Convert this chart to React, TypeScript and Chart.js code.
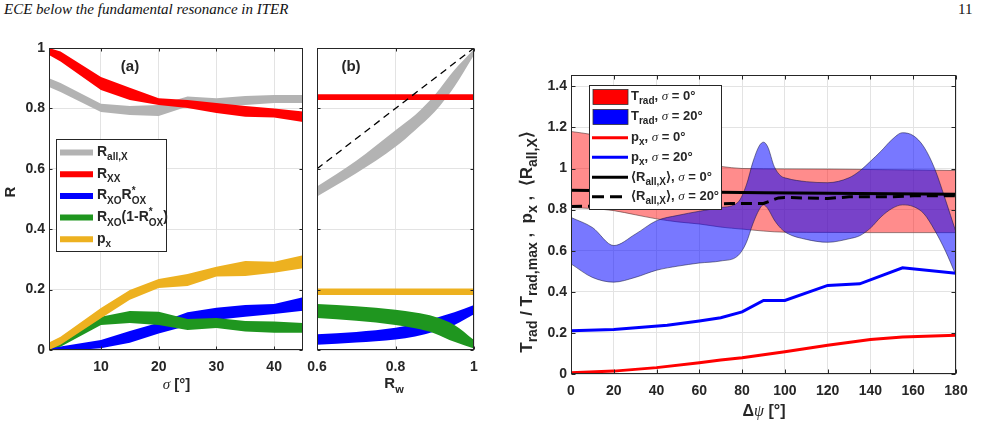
import React, { useEffect, useRef } from 'react';
import { Chart, registerables } from 'chart.js';

Chart.register(...registerables);

const W = 983;
const H = 424;
const AX = '#262626';
const GRID = '#e3e3e3';
const SANS = '"Liberation Sans", Arial, Helvetica, sans-serif';
const SERIF = '"Liberation Serif", "DejaVu Serif", serif';

// ---------- panel (a): reflection coefficients vs. beam divergence sigma [deg]
const sigma = [1, 3, 10, 15, 20, 25, 30, 35, 40, 45];
const aAllXHi = [0.9, 0.884, 0.815, 0.808, 0.811, 0.839, 0.834, 0.841, 0.844, 0.844];
const aAllXLo = [0.871, 0.854, 0.788, 0.778, 0.775, 0.806, 0.806, 0.811, 0.818, 0.818];
const aXXHi = [1.0, 0.988, 0.904, 0.868, 0.834, 0.828, 0.818, 0.808, 0.8, 0.79];
const aXXLo = [0.977, 0.955, 0.861, 0.828, 0.811, 0.801, 0.785, 0.772, 0.77, 0.755];
const aXOOXHi = [0.011, 0.012, 0.033, 0.063, 0.09, 0.125, 0.14, 0.149, 0.152, 0.175];
const aXOOXLo = [-0.005, -0.004, 0.006, 0.024, 0.055, 0.08, 0.1, 0.11, 0.119, 0.13];
const aXO1mOXHi = [0.024, 0.033, 0.11, 0.129, 0.127, 0.103, 0.106, 0.096, 0.094, 0.089];
const aXO1mOXLo = [0.005, 0.011, 0.083, 0.089, 0.083, 0.066, 0.073, 0.061, 0.057, 0.057];
const aPxHi = [0.025, 0.044, 0.139, 0.199, 0.235, 0.252, 0.276, 0.295, 0.292, 0.314];
const aPxLo = [0.0, 0.017, 0.105, 0.166, 0.205, 0.212, 0.243, 0.245, 0.256, 0.271];
const aXTicks = [10, 20, 30, 40];
const rTicks = [0, 0.2, 0.4, 0.6, 0.8, 1];

// ---------- panel (b): reflection vs. wall reflectivity R_w
const rw = [0.6, 0.7, 0.8, 0.85, 0.9, 0.95, 1];
const bAllXHi = [0.541, 0.627, 0.728, 0.778, 0.844, 0.927, 0.996];
const bAllXLo = [0.508, 0.585, 0.673, 0.728, 0.789, 0.872, 0.977];
const bXO1mOXHi = [0.152, 0.145, 0.133, 0.124, 0.11, 0.083, 0.033];
const bXO1mOXLo = [0.106, 0.097, 0.083, 0.072, 0.055, 0.027, 0.005];
const bXOOXHi = [0.052, 0.06, 0.074, 0.086, 0.105, 0.125, 0.149];
const bXOOXLo = [0.017, 0.025, 0.035, 0.045, 0.061, 0.083, 0.118];
const rwEnds = [0.6, 1];
const bXXHi = [0.847, 0.847];
const bXXLo = [0.828, 0.828];
const bPxHi = [0.204, 0.204];
const bPxLo = [0.182, 0.182];
const bDiag = [0.6, 1];
const bXTicks = [0.6, 0.8, 1];

// ---------- panel (c): normalised T_rad, p_x and <R_all,X> vs. delta psi [deg]
const psiRed = [0, 10, 20, 30, 40, 50, 60, 70, 80, 100, 120, 140, 160, 180];
const tRad0Hi = [1.18, 1.165, 1.14, 1.11, 1.08, 1.045, 1.02, 1.01, 1.0, 0.998, 0.997, 0.995, 0.993, 0.99];
const tRad0Lo = [0.81, 0.805, 0.795, 0.775, 0.755, 0.74, 0.73, 0.715, 0.705, 0.69, 0.689, 0.688, 0.688, 0.688];
const psiBlue = [0, 10, 20, 30, 40, 50, 60, 70, 78, 82, 85, 88, 90, 92, 95, 98, 101, 110, 120, 130, 135, 140, 145, 150, 155, 160, 165, 170, 175, 180];
const tRad20Hi = [0.762, 0.713, 0.625, 0.68, 0.746, 0.772, 0.792, 0.81, 0.835, 0.92, 1.03, 1.11, 1.128, 1.105, 1.01, 0.965, 0.952, 0.936, 0.931, 0.955, 0.988, 1.035, 1.085, 1.14, 1.174, 1.16, 1.105, 1.0, 0.85, 0.69];
const tRad20Lo = [0.536, 0.47, 0.447, 0.47, 0.505, 0.525, 0.54, 0.55, 0.575, 0.64, 0.73, 0.8, 0.823, 0.805, 0.75, 0.71, 0.685, 0.655, 0.641, 0.658, 0.673, 0.71, 0.765, 0.805, 0.823, 0.815, 0.78, 0.7, 0.6, 0.48];
const psiPx20 = [0, 20, 45, 60, 70, 80, 90, 100, 120, 135, 155, 180];
const px20 = [0.21, 0.216, 0.237, 0.258, 0.274, 0.302, 0.358, 0.358, 0.431, 0.439, 0.517, 0.49];
const psiPx0 = [0, 20, 40, 60, 70, 80, 100, 120, 140, 155, 180];
const px0 = [0.006, 0.014, 0.031, 0.055, 0.068, 0.079, 0.108, 0.14, 0.168, 0.18, 0.189];
const psiR0 = [0, 30, 60, 90, 120, 150, 180];
const rAll0 = [0.894, 0.89, 0.886, 0.882, 0.879, 0.877, 0.875];
const psiR20 = [0, 20, 40, 60, 75, 90, 97, 100, 120, 130, 150, 160, 180];
const rAll20 = [0.815, 0.818, 0.82, 0.825, 0.83, 0.83, 0.857, 0.859, 0.854, 0.862, 0.862, 0.867, 0.867];
const cXTicks = [0, 20, 40, 60, 80, 100, 120, 140, 160, 180];
const cYTicks = [0, 0.2, 0.4, 0.6, 0.8, 1, 1.2, 1.4];

const GRAY = '#b3b3b3';
const RED = '#ff0000';
const BLUE = '#0000ff';
const GREEN = '#1f961f';
const YELLOW = '#EDB120';

type Seg = { t: string; sub?: boolean; sup?: string; it?: boolean };

let subRatio = 0.72;

function segFont(size: number, it?: boolean, small?: boolean) {
  const s = small ? Math.round(size * subRatio) : size;
  return it ? `italic ${s}px ${SERIF}` : `bold ${s}px ${SANS}`;
}

function segWidth(ctx: CanvasRenderingContext2D, s: Seg, size: number) {
  if (s.sub || s.sup !== undefined) {
    ctx.font = segFont(size, s.it, true);
    const w1 = s.t ? ctx.measureText(s.t).width : 0;
    const w2 = s.sup ? ctx.measureText(s.sup).width : 0;
    return Math.max(w1, w2);
  }
  ctx.font = segFont(size, s.it);
  return ctx.measureText(s.t).width;
}

function drawRich(ctx: CanvasRenderingContext2D, segs: Seg[], x: number, y: number, size: number, align: 'left' | 'center', color = AX) {
  let total = 0;
  for (const s of segs) total += segWidth(ctx, s, size);
  let cx = align === 'center' ? x - total / 2 : x;
  ctx.fillStyle = color;
  ctx.textAlign = 'left';
  ctx.textBaseline = 'alphabetic';
  for (const s of segs) {
    const w = segWidth(ctx, s, size);
    if (s.sub || s.sup !== undefined) {
      ctx.font = segFont(size, s.it, true);
      if (s.t) ctx.fillText(s.t, cx, y + size * 0.32);
      if (s.sup) ctx.fillText(s.sup, cx, y - size * 0.42);
    } else {
      ctx.font = segFont(size, s.it);
      ctx.fillText(s.t, cx, y);
    }
    cx += w;
  }
}

function drawRotated(ctx: CanvasRenderingContext2D, segs: Seg[], baseX: number, centerY: number, size: number) {
  ctx.save();
  ctx.translate(baseX, centerY);
  ctx.rotate(-Math.PI / 2);
  drawRich(ctx, segs, 0, 0, size, 'center');
  ctx.restore();
}

const pts = (xs: number[], ys: number[]) => xs.map((x, i) => ({ x, y: ys[i] }));

function band(xs: number[], lo: number[], hi: number[], fill: string, order: number, edge?: string, smooth = false) {
  const common: any = {
    pointRadius: 0,
    order,
    borderColor: edge || 'rgba(0,0,0,0)',
    borderWidth: edge ? 0.7 : 0,
    cubicInterpolationMode: smooth ? 'monotone' : 'default',
    tension: 0,
  };
  return [
    { ...common, data: pts(xs, lo), fill: false },
    { ...common, data: pts(xs, hi), fill: '-1', backgroundColor: fill },
  ];
}

function line(xs: number[], ys: number[], color: string, width: number, order: number, dash?: number[]) {
  return {
    data: pts(xs, ys),
    borderColor: color,
    borderWidth: width,
    borderDash: dash || [],
    pointRadius: 0,
    fill: false,
    tension: 0,
    order,
  };
}

const fmt = (v: number) => String(Math.round(v * 10) / 10);

type PanelSpec = {
  area: { l: number; t: number; r: number; b: number };
  x: [number, number];
  y: [number, number];
  xTicks: number[];
  yTicks: number[];
  yLabels: boolean;
  tickLen: number;
  datasets: any[];
  extra: (ctx: CanvasRenderingContext2D) => void;
};

const YW = 40;
const XH = 30;

function makeChart(canvas: HTMLCanvasElement, p: PanelSpec) {
  const tickFont = { family: SANS, size: 14, weight: 'bold' as const };
  const deco = {
    id: 'deco',
    afterDraw(chart: any) {
      const ctx: CanvasRenderingContext2D = chart.ctx;
      const a = chart.chartArea;
      const sx = chart.scales.x;
      const sy = chart.scales.y;
      ctx.save();
      ctx.strokeStyle = AX;
      ctx.lineWidth = 1;
      const L = Math.round(a.left) + 0.5;
      const R = Math.round(a.right) - 0.5;
      const T = Math.round(a.top) + 0.5;
      const B = Math.round(a.bottom) - 0.5;
      ctx.strokeRect(L, T, R - L, B - T);
      ctx.beginPath();
      for (const v of p.xTicks) {
        const px = Math.round(sx.getPixelForValue(v)) + 0.5;
        ctx.moveTo(px, B);
        ctx.lineTo(px, B - p.tickLen);
        ctx.moveTo(px, T);
        ctx.lineTo(px, T + p.tickLen);
      }
      for (const v of p.yTicks) {
        const py = Math.round(sy.getPixelForValue(v)) + 0.5;
        ctx.moveTo(L, py);
        ctx.lineTo(L + p.tickLen, py);
        ctx.moveTo(R, py);
        ctx.lineTo(R - p.tickLen, py);
      }
      ctx.stroke();
      p.extra(ctx);
      ctx.restore();
    },
  };
  return new Chart(canvas, {
    type: 'line',
    data: { datasets: p.datasets },
    options: {
      responsive: false,
      animation: false,
      events: [],
      layout: {
        autoPadding: false,
        padding: { left: p.area.l - YW, top: p.area.t, right: W - p.area.r, bottom: H - p.area.b - XH },
      },
      plugins: { legend: { display: false }, tooltip: { enabled: false } },
      scales: {
        x: {
          type: 'linear',
          min: p.x[0],
          max: p.x[1],
          afterBuildTicks: (s: any) => {
            s.ticks = p.xTicks.map((value) => ({ value }));
          },
          afterFit: (s: any) => {
            s.height = XH;
          },
          grid: { color: GRID, drawTicks: false, lineWidth: 1 },
          border: { display: false },
          ticks: { color: AX, font: tickFont, padding: 9, maxRotation: 0, autoSkip: false, callback: (v: any) => fmt(Number(v)) },
        },
        y: {
          type: 'linear',
          min: p.y[0],
          max: p.y[1],
          afterBuildTicks: (s: any) => {
            s.ticks = p.yTicks.map((value) => ({ value }));
          },
          afterFit: (s: any) => {
            s.width = YW;
          },
          grid: { color: GRID, drawTicks: false, lineWidth: 1 },
          border: { display: false },
          ticks: { display: p.yLabels, color: AX, font: tickFont, padding: 4, autoSkip: false, callback: (v: any) => fmt(Number(v)) },
        },
      },
    } as any,
    plugins: [deco],
  });
}

function legendLine(ctx: CanvasRenderingContext2D, x0: number, x1: number, y: number, color: string, width: number, dash: number[] = []) {
  ctx.save();
  ctx.strokeStyle = color;
  ctx.lineWidth = width;
  ctx.setLineDash(dash);
  ctx.beginPath();
  ctx.moveTo(x0, y);
  ctx.lineTo(x1, y);
  ctx.stroke();
  ctx.restore();
}

function legendBox(ctx: CanvasRenderingContext2D, x0: number, y0: number, x1: number, y1: number) {
  ctx.save();
  ctx.fillStyle = '#ffffff';
  ctx.fillRect(x0, y0, x1 - x0, y1 - y0);
  ctx.strokeStyle = AX;
  ctx.lineWidth = 1;
  ctx.strokeRect(x0 + 0.5, y0 + 0.5, x1 - x0 - 1, y1 - y0 - 1);
  ctx.restore();
}

const panelA = (): PanelSpec => ({
  area: { l: 49, t: 48, r: 303, b: 350 },
  x: [1, 45],
  y: [0, 1],
  xTicks: aXTicks,
  yTicks: rTicks,
  yLabels: true,
  tickLen: 3,
  datasets: [
    ...band(sigma, aAllXLo, aAllXHi, GRAY, 50),
    ...band(sigma, aXXLo, aXXHi, RED, 40),
    ...band(sigma, aXOOXLo, aXOOXHi, BLUE, 30),
    ...band(sigma, aXO1mOXLo, aXO1mOXHi, GREEN, 20),
    ...band(sigma, aPxLo, aPxHi, YELLOW, 10),
  ],
  extra: (ctx) => {
    subRatio = 0.72;
    drawRich(ctx, [{ t: '(a)' }], 130, 71, 15, 'center');
    legendBox(ctx, 56, 139, 167, 252);
    const entries: { c: string; s: Seg[] }[] = [
      { c: GRAY, s: [{ t: 'R' }, { t: 'all,X', sub: true }] },
      { c: RED, s: [{ t: 'R' }, { t: 'XX', sub: true }] },
      { c: BLUE, s: [{ t: 'R' }, { t: 'XO', sub: true }, { t: 'R' }, { t: 'OX', sub: true, sup: '*' }] },
      { c: GREEN, s: [{ t: 'R' }, { t: 'XO', sub: true }, { t: '(1-R' }, { t: 'OX', sub: true, sup: '*' }, { t: ')' }] },
      { c: YELLOW, s: [{ t: 'p' }, { t: 'x', sub: true }] },
    ];
    entries.forEach((e, i) => {
      const cy = 152.5 + i * 21.7;
      legendLine(ctx, 60, 93, cy, e.c, 6);
      drawRich(ctx, e.s, 97, cy + 3.5, 14, 'left');
    });
    drawRotated(ctx, [{ t: 'R' }], 15, 192, 15);
    drawRich(ctx, [{ t: 'σ', it: true }, { t: ' [°]' }], 176.5, 389, 15, 'center');
  },
});

const panelB = (): PanelSpec => ({
  area: { l: 317, t: 48, r: 474, b: 350 },
  x: [0.6, 1],
  y: [0, 1],
  xTicks: bXTicks,
  yTicks: rTicks,
  yLabels: false,
  tickLen: 3,
  datasets: [
    ...band(rw, bAllXLo, bAllXHi, GRAY, 50, undefined, true),
    ...band(rwEnds, bXXLo, bXXHi, RED, 40),
    ...band(rw, bXOOXLo, bXOOXHi, BLUE, 30, undefined, true),
    ...band(rw, bXO1mOXLo, bXO1mOXHi, GREEN, 20, undefined, true),
    ...band(rwEnds, bPxLo, bPxHi, YELLOW, 10),
    line(bDiag, bDiag, '#000000', 1.3, 5, [7, 5]),
  ],
  extra: (ctx) => {
    subRatio = 0.72;
    drawRich(ctx, [{ t: '(b)' }], 351, 71, 15, 'center');
    drawRich(ctx, [{ t: 'R' }, { t: 'w', sub: true }], 394, 388, 15, 'center');
  },
});

const panelC = (): PanelSpec => ({
  area: { l: 571, t: 75, r: 956, b: 374 },
  x: [0, 180],
  y: [0, 1.455],
  xTicks: cXTicks,
  yTicks: cYTicks,
  yLabels: true,
  tickLen: 4,
  datasets: [
    ...band(psiRed, tRad0Lo, tRad0Hi, 'rgba(255,0,0,0.45)', 50, 'rgba(60,30,30,0.75)', true),
    ...band(psiBlue, tRad20Lo, tRad20Hi, 'rgba(0,0,255,0.53)', 40, 'rgba(20,20,60,0.75)', true),
    line(psiPx0, px0, RED, 3, 30),
    line(psiPx20, px20, BLUE, 3, 25),
    line(psiR0, rAll0, '#000000', 3, 10),
    line(psiR20, rAll20, '#000000', 3, 5, [11, 6]),
  ],
  extra: (ctx) => {
    subRatio = 0.74;
    legendBox(ctx, 589, 85, 722, 210);
    ctx.save();
    ctx.fillStyle = RED;
    ctx.fillRect(593, 89.5, 35, 15);
    ctx.fillStyle = BLUE;
    ctx.fillRect(593, 109.5, 35, 15);
    ctx.strokeStyle = '#333';
    ctx.lineWidth = 0.8;
    ctx.strokeRect(593, 89.5, 35, 15);
    ctx.strokeRect(593, 109.5, 35, 15);
    ctx.restore();
    const sig = (deg: string): Seg[] => [{ t: ', ' }, { t: 'σ', it: true }, { t: ` = ${deg}°` }];
    const rows: Seg[][] = [
      [{ t: 'T' }, { t: 'rad', sub: true }, ...sig('0')],
      [{ t: 'T' }, { t: 'rad', sub: true }, ...sig('20')],
      [{ t: 'p' }, { t: 'x', sub: true }, ...sig('0')],
      [{ t: 'p' }, { t: 'x', sub: true }, ...sig('20')],
      [{ t: '⟨R' }, { t: 'all,X', sub: true }, { t: '⟩' }, ...sig('0')],
      [{ t: '⟨R' }, { t: 'all,X', sub: true }, { t: '⟩' }, ...sig('20')],
    ];
    const ys = [96.8, 116.8, 137.7, 157.3, 177.3, 196.7];
    legendLine(ctx, 592, 628, ys[2], RED, 3);
    legendLine(ctx, 592, 628, ys[3], BLUE, 3);
    legendLine(ctx, 592, 628, ys[4], '#000000', 3);
    legendLine(ctx, 592, 628, ys[5], '#000000', 3, [12, 6]);
    rows.forEach((r, i) => drawRich(ctx, r, 631, ys[i] + 3.5, 13, 'left'));
    subRatio = 0.8;
    drawRotated(
      ctx,
      [
        { t: 'T' },
        { t: 'rad', sub: true },
        { t: ' / T' },
        { t: 'rad,max', sub: true },
        { t: ' ,  p' },
        { t: 'x', sub: true },
        { t: ' ,  ⟨R' },
        { t: 'all,X', sub: true },
        { t: '⟩' },
      ],
      532,
      242,
      17
    );
    subRatio = 0.74;
    drawRich(ctx, [{ t: 'Δ' }, { t: 'ψ', it: true }, { t: ' [°]' }], 764, 416, 16, 'center');
  },
});

export default function App() {
  const refA = useRef<HTMLCanvasElement>(null);
  const refB = useRef<HTMLCanvasElement>(null);
  const refC = useRef<HTMLCanvasElement>(null);

  useEffect(() => {
    const charts = [
      makeChart(refA.current as HTMLCanvasElement, panelA()),
      makeChart(refB.current as HTMLCanvasElement, panelB()),
      makeChart(refC.current as HTMLCanvasElement, panelC()),
    ];
    return () => charts.forEach((c) => c.destroy());
  }, []);

  const canvasStyle: React.CSSProperties = { position: 'absolute', left: 0, top: 0, width: W, height: H };

  return (
    <div style={{ position: 'absolute', left: 0, top: 0, width: W, height: H, background: '#ffffff', overflow: 'hidden' }}>
      <div style={{ position: 'absolute', left: 4, top: 1, font: `italic 15px ${SERIF}`, color: '#111', whiteSpace: 'nowrap' }}>
        ECE below the fundamental resonance in ITER
      </div>
      <div style={{ position: 'absolute', left: 958, top: 1, font: `15px ${SERIF}`, color: '#111' }}>11</div>
      <canvas ref={refA} width={W} height={H} style={canvasStyle} />
      <canvas ref={refB} width={W} height={H} style={canvasStyle} />
      <canvas ref={refC} width={W} height={H} style={canvasStyle} />
    </div>
  );
}
